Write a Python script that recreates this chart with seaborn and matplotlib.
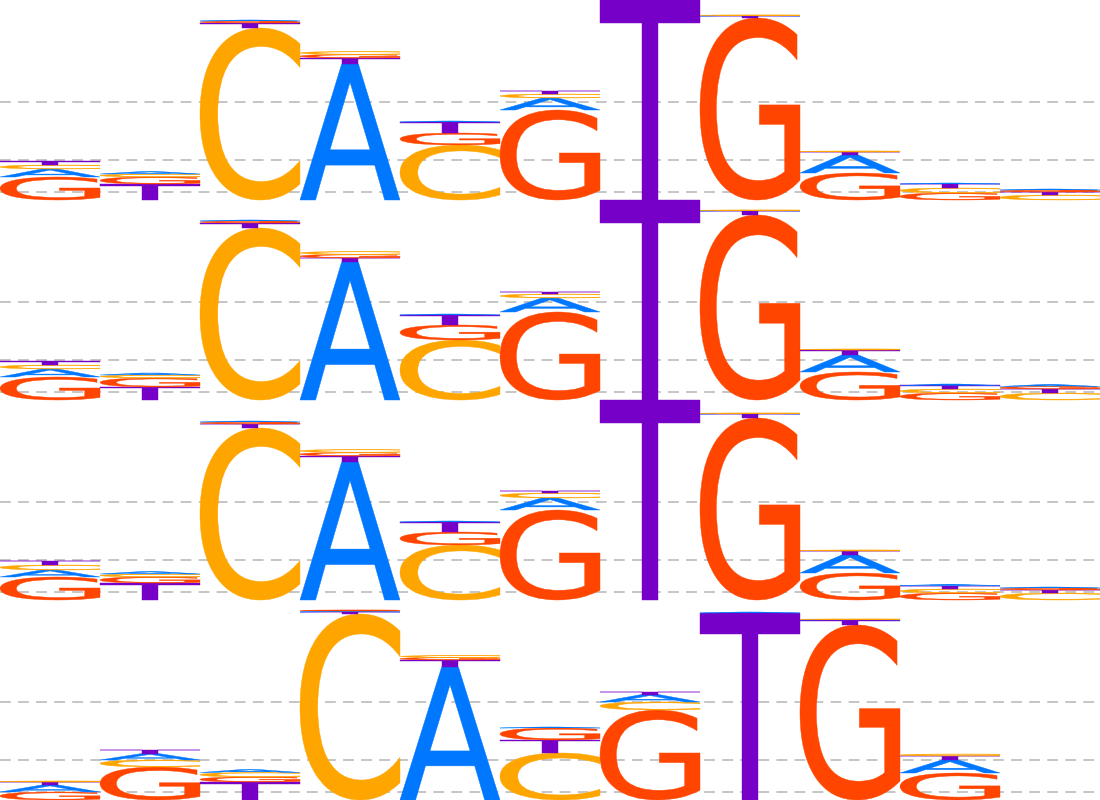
import matplotlib
matplotlib.use("Agg")
import matplotlib.pyplot as plt
import seaborn as sns
from matplotlib.textpath import TextPath
from matplotlib.patches import PathPatch
from matplotlib.font_manager import FontProperties
from matplotlib.transforms import Affine2D

sns.set_style("white")

# letter heights (bits) per position, one set of lists per logo row (top to bottom)
letters = ["A", "C", "G", "T"]
colors = {"A": "#0077FF", "C": "#FFA500", "G": "#FF4500", "T": "#7700C8"}

row1_A = [.08, .025, .01, 1.36, .01, .12, 0, .005, .18, .01, .01]
row1_C = [.04, .03, 1.72, .03, .55, .04, 0, .005, .01, .05, .05]
row1_G = [.23, .07, .02, .035, .12, .90, 0, 1.82, .27, .07, .02]
row1_T = [.035, .16, .05, .06, .11, .03, 2.0, .02, .03, .04, .03]

row2_A = [.08, .02, .01, 1.38, .01, .14, 0, .005, .17, .015, .02]
row2_C = [.04, .03, 1.72, .03, .60, .04, 0, .005, .01, .04, .07]
row2_G = [.23, .09, .02, .035, .15, .88, 0, 1.85, .28, .07, .025]
row2_T = [.035, .13, .05, .04, .10, .02, 2.0, .04, .05, .035, .04]

row3_A = [.07, .025, .01, 1.38, .01, .12, 0, .005, .18, .01, .01]
row3_C = [.05, .03, 1.72, .03, .55, .05, 0, .005, .01, .04, .07]
row3_G = [.23, .06, .02, .035, .13, .90, 0, 1.82, .27, .07, .02]
row3_T = [.045, .17, .04, .06, .10, .02, 2.0, .04, .04, .035, .03]

row4_A = [.07, .065, .03, .01, 1.33, .01, .075, .01, .005, .13]
row4_C = [.01, .07, .045, 1.86, .02, .47, .08, 0, .005, .02]
row4_G = [.08, .33, .05, .01, .025, .12, .90, 0, 1.75, .27]
row4_T = [.03, .04, .18, .02, .07, .13, .03, 1.87, .05, .04]

rows = [
    [row1_A, row1_C, row1_G, row1_T],
    [row2_A, row2_C, row2_G, row2_T],
    [row3_A, row3_C, row3_G, row3_T],
    [row4_A, row4_C, row4_G, row4_T],
]
grid_levels = [0.083, 0.40, 0.983]
row_height = 2.0

fp = FontProperties(family="DejaVu Sans")


def draw_letter(ax, letter, x, y, w, h, color):
    path = TextPath((0, 0), letter, size=1, prop=fp)
    ext = path.get_extents()
    tr = (Affine2D().translate(-ext.x0, -ext.y0)
          .scale(w / ext.width, h / ext.height)
          .translate(x, y))
    patch = PathPatch(tr.transform_path(path), facecolor=color,
                      edgecolor=color, lw=0.3, zorder=2)
    ax.add_patch(patch)


fig = plt.figure(figsize=(11, 8), dpi=100)
ax = fig.add_axes([0, 0, 1, 1])
n_rows = len(rows)
ax.set_xlim(0, 11)
ax.set_ylim(0, n_rows * row_height)
ax.axis("off")

for r, row in enumerate(rows):
    base = (n_rows - 1 - r) * row_height
    for lvl in grid_levels:
        ax.axhline(base + lvl, color="#c0c0c0", lw=1.3, ls=(0, (6, 4)), zorder=0)
    for pos in range(len(row[0])):
        heights = [(row[i][pos], letters[i]) for i in range(4)]
        heights = sorted(heights, key=lambda t: -t[0])
        y = base
        for h, let in heights:
            if h <= 0:
                continue
            draw_letter(ax, let, pos, y, 1.0, h, colors[let])
            y += h

fig.savefig("out.png", dpi=100)
